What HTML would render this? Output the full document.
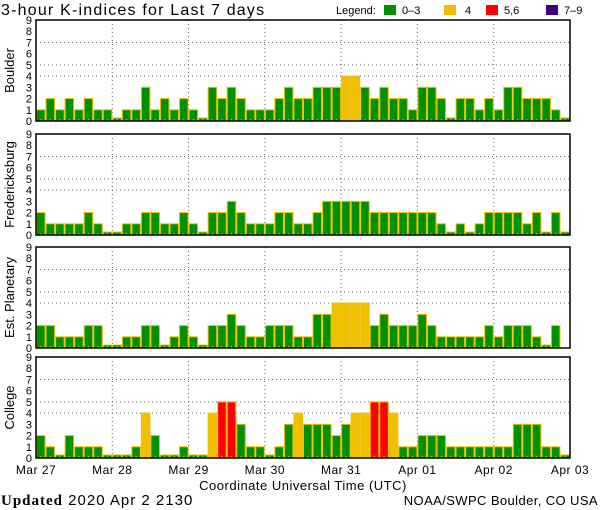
<!DOCTYPE html>
<html><head><meta charset="utf-8"><style>
body{margin:0;background:#fff;}
svg{display:block;font-family:"Liberation Sans",sans-serif;}
</style></head><body>
<svg id="chart" width="600" height="510" viewBox="0 0 600 510">
<text x="1" y="15" font-size="16" letter-spacing="1.2">3-hour K-indices for Last 7 days</text>
<g font-size="11">
<text x="336" y="14">Legend:</text>
<rect x="384" y="5" width="12" height="10" fill="#009000"/><text x="402" y="14">0–3</text>
<rect x="444" y="5" width="12" height="10" fill="#f0c000"/><text x="465" y="14">4</text>
<rect x="486" y="5" width="12" height="10" fill="#ff0000"/><text x="504" y="14">5,6</text>
<rect x="546" y="5" width="12" height="10" fill="#400080"/><text x="564" y="14">7–9</text>
</g>
<g id="panels"></g>
<text x="303" y="490" font-size="13" letter-spacing="0.5" text-anchor="middle">Coordinate Universal Time (UTC)</text>
<text x="1" y="505" font-size="15" letter-spacing="1"><tspan font-weight="bold" font-family="Liberation Serif,serif">Updated</tspan> 2020 Apr  2 2130</text>
<text x="598" y="505" font-size="13" letter-spacing="0.4" text-anchor="end">NOAA/SWPC Boulder, CO USA</text>
</svg>
<script>
const stations = ["Boulder","Fredericksburg","Est. Planetary","College"];
const dayLabels = ["Mar 27","Mar 28","Mar 29","Mar 30","Mar 31","Apr 01","Apr 02","Apr 03"];
const yTicks = [0,1,2,3,4,5,6,7,8,9];
const boulder = [1,2,1,2,1,2,1,1, 0,1,1,3,1,2,1,2, 1,0,3,2,3,2,1,1, 1,2,3,2,2,3,3,3, 4,4,3,2,3,2,2,1, 3,3,2,0,2,2,1,2, 1,3,3,2,2,2,1,0];
const fredericksburg = [2,1,1,1,1,2,1,0, 0,1,1,2,2,1,1,2, 1,0,2,2,3,2,1,1, 1,2,2,1,1,2,3,3, 3,3,3,2,2,2,2,2, 2,2,1,0,1,0,1,2, 2,2,2,1,2,0,2,0];
const planetary = [2,2,1,1,1,2,2,0, 0,1,1,2,2,0,1,2, 1,0,2,2,3,2,1,1, 2,2,2,1,1,3,3,4, 4,4,4,2,3,2,2,2, 3,2,1,1,1,1,1,2, 1,2,2,2,1,0,2,null];
const college = [2,1,0,2,1,1,1,0, 0,0,1,4,2,0,0,1, 0,0,4,5,5,3,1,1, 0,1,3,4,3,3,3,2, 3,4,4,5,5,4,1,1, 2,2,2,1,1,1,1,1, 1,1,3,3,3,1,1,0];
const series = [boulder,fredericksburg,planetary,college];

const NS="http://www.w3.org/2000/svg";
const g=document.getElementById('panels');
const X0=36,X1=570,nBars=56;
const tops=[20,134,247,357],H=101;
const bw=(X1-X0)/nBars;
function xScale(i){return X0+i*bw;}
function el(t,a,p){const e=document.createElementNS(NS,t);for(const k in a)e.setAttribute(k,a[k]);(p||g).appendChild(e);return e;}
function color(v){return v>=7?"#400080":v>=5?"#ff0000":v===4?"#f0c000":"#009000";}

series.forEach((data,p)=>{
  const top=tops[p],bot=top+H;
  const yScale=v=>bot-v*(H/9);
  const pg=el('g',{});
  
  
  [4,5,7].forEach(v=>{
    const l=el('line',{x1:X0,x2:X1,y1:yScale(v),y2:yScale(v),stroke:'#666','stroke-dasharray':'1,3'},pg);
    
    
  });
  for(let d=1;d<7;d++){
    const l=el('line',{x1:xScale(d*8),x2:xScale(d*8),y1:top,y2:bot,stroke:'#666','stroke-dasharray':'1,3'},pg);
    
    
  }
  data.forEach((v,i)=>{
    if(v===null) return;
    const h=Math.max(v*(H/9),3);
    const r=el('rect',{x:xScale(i)+0.5,y:bot-h,width:bw-1,height:h,fill:color(v),stroke:'#f0c000','stroke-width':1},pg);
    
    
    el('line',{x1:xScale(i)+bw/2,x2:xScale(i)+bw/2,y1:bot-2,y2:bot,stroke:'#f0c000'},pg);
  });
  const f=el('rect',{x:X0,y:top,width:X1-X0,height:H,fill:'none',stroke:'#000','stroke-width':1.5},pg);
  
  
  yTicks.forEach(v=>{
    const t=el('text',{x:32,y:yScale(v)+4,'font-size':11,'text-anchor':'end'},pg);
    t.textContent=v;
    
    
  });
  const cy=top+H/2;
  const yl=el('text',{x:14,y:cy,'font-size':13,'text-anchor':'middle',transform:'rotate(-90 14 '+cy+')'},pg);
  yl.textContent=stations[p];
  
  
});
dayLabels.forEach((d,i)=>{
  const t=el('text',{x:xScale(i*8),y:474,'font-size':12,'letter-spacing':'0.5','text-anchor':'middle'});
  t.textContent=d;
  
  
});
</script>
</body></html>
